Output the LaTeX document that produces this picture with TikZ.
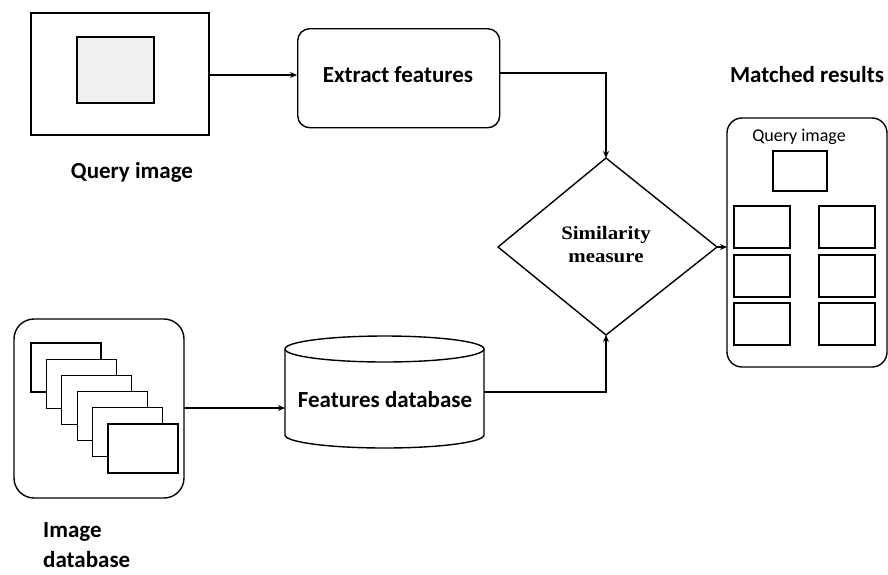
\documentclass[tikz,border=0pt]{standalone}
\usepackage{fontspec}
\setmainfont{Carlito}
\newfontfamily\serifbf{Liberation Serif}
\usetikzlibrary{arrows.meta,shapes.geometric}
\begin{document}
\begin{tikzpicture}[x=1pt,y=-1pt,
  conn/.style={line width=1.4pt,-{Stealth[length=7pt,width=6pt]}},
  lbl/.style={font=\fontsize{23}{26}\selectfont\bfseries,inner sep=0pt},
]
\useasboundingbox (0,0) rectangle (888,574);
% Query image
\draw[line width=1.5pt] (31,13) rectangle (209,135);
\coordinate (qimgR) at (209,75);
\draw[line width=1.5pt,fill=black!6] (77,37) rectangle (154,103);
\node[lbl] (qlbl) at (132,172) {Query image};
% Extract features
\node[draw,line width=1.4pt,rounded corners=12pt,minimum width=202pt,minimum height=99pt,anchor=north west,inner sep=0pt] (ext) at (297,28) {};
\node[lbl] (extlbl) at (398,75) {Extract features};
% Diamond
\coordinate (dT) at (606,158);
\coordinate (dL) at (498,247);
\coordinate (dR) at (717,247);
\coordinate (dB) at (606,335);
\draw[line width=1.4pt,line join=miter] (dT) -- (dR) -- (dB) -- (dL) -- cycle;
\node[font=\serifbf\fontsize{19}{23}\selectfont\bfseries,align=center,inner sep=0pt,xscale=1.1] (sim) at (606,245) {Similarity\\measure};
% Matched results
\node[lbl] (mlbl) at (807,75) {Matched results};
\draw[line width=1.4pt,rounded corners=15pt] (727,118) rectangle (887,367);
\coordinate (mL) at (727,247);
\node[font=\fontsize{18}{21}\selectfont,inner sep=0pt] (mq) at (799,137) {Query image};
\draw[line width=1.3pt] (773,151) rectangle (827,191);
\foreach \y in {206,255,303}{
  \draw[line width=1.3pt] (734,\y) rectangle (790,\y+42);
  \draw[line width=1.3pt] (819,\y) rectangle (875,\y+42);
}
% Image database
\draw[line width=1.4pt,rounded corners=20pt] (14,319) rectangle (184,498);
\coordinate (idbR) at (184,408);
\foreach \i in {0,...,5}{
  \draw[line width=1.3pt,fill=white] (31+15.4*\i,343+16.2*\i) rectangle ++(70,49);
}
\node[lbl,align=left,anchor=base west,font=\fontsize{23}{30}\selectfont\bfseries] (idblbl) at (43,567) {Image\\database};
% Cylinder
\draw[line width=1.4pt,fill=white] (285,349) -- (285,435) arc[start angle=180,end angle=360,x radius=99.5pt,y radius=13pt] -- (484,349);
\draw[line width=1.4pt] (384.5,349) ellipse[x radius=99.5pt,y radius=13pt];
\node[lbl] (cyllbl) at (385,400) {Features database};
\coordinate (cylL) at (285,408);
\coordinate (cylR) at (484,392);
% Connectors
\draw[conn] (qimgR) -- (ext.west |- qimgR);
\draw[conn] (ext.east |- 0,73) -| (dT);
\draw[conn] (idbR) -- (cylL);
\draw[conn] (cylR) -| (dB);
\draw[conn] (dR) -- (mL);
\end{tikzpicture}
\end{document}
